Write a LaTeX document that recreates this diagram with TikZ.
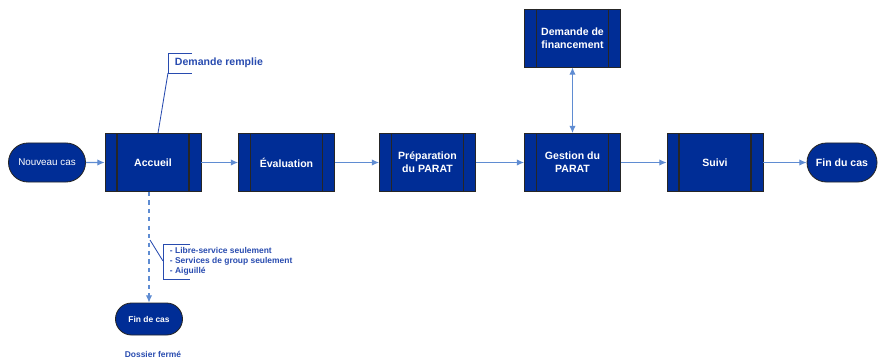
\documentclass[tikz,border=0pt]{standalone}
\usepackage{fontspec}
\setmainfont{Liberation Sans}
\usetikzlibrary{arrows.meta,shapes.misc}
\definecolor{boxblue}{RGB}{0,45,150}
\definecolor{linkblue}{RGB}{95,140,210}
\definecolor{noteblue}{RGB}{40,75,175}

\begin{document}
\begin{tikzpicture}[x=0.025cm, y=-0.025cm, font=\bfseries\fontsize{7.5}{9}\selectfont,
	process/.style={draw=black!85, line width=0.6pt, fill=boxblue, text=white, minimum width=2.4cm, minimum height=1.45cm, align=center, inner sep=0pt,
		path picture={\draw[black!85, line width=0.9pt] ([xshift=0.3cm]path picture bounding box.north west) -- ([xshift=0.3cm]path picture bounding box.south west);
			\draw[black!85, line width=0.9pt] ([xshift=-0.3cm]path picture bounding box.north east) -- ([xshift=-0.3cm]path picture bounding box.south east);}},
	terminal/.style={rounded rectangle, draw=black!85, line width=0.6pt, fill=boxblue, text=white, minimum height=0.975cm, inner sep=0pt},
	link/.style={draw=linkblue, line width=0.8pt, -{Latex[length=1.8mm,width=1.6mm]}},
	bracket/.style={draw=noteblue, line width=0.6pt},
	note/.style={text=noteblue, anchor=west, align=left}]
	\useasboundingbox (0,0) rectangle (878,361);
	% main flow
	\node[terminal, minimum width=1.925cm, font=\fontsize{7}{8}\selectfont] (nouveau) at (47,162.5) {Nouveau cas};
	\node[process] (accueil) at (153,162.5) {Accueil};
	\node[process] (evaluation) at (286.5,162.5) {Évaluation};
	\node[process] (preparation) at (427.5,162.5) {Préparation\\du PARAT};
	\node[process] (gestion) at (572.5,162.5) {Gestion du\\PARAT};
	\node[process] (financement) at (572.5,38) {Demande de\\financement};
	\node[process] (suivi) at (715,162.5) {Suivi};
	\node[terminal, minimum width=1.75cm] (fin) at (842,162.5) {Fin du cas};
	\node[terminal, minimum width=1.675cm, minimum height=0.8cm, font=\bfseries\fontsize{6}{7}\selectfont] (fincas) at (149,319) {Fin de cas};

	\draw[link] (nouveau) -- (accueil);
	\draw[link] (accueil) -- (evaluation);
	\draw[link] (evaluation) -- (preparation);
	\draw[link] (preparation) -- (gestion);
	\draw[link] (gestion) -- (suivi);
	\draw[link] (suivi) -- (fin);
	\draw[link, {Latex[length=1.8mm,width=1.6mm]}-{Latex[length=1.8mm,width=1.6mm]}] (gestion) -- (financement);
	\draw[link, dashed] (accueil.south -| fincas) -- (fincas.north);

	% notes
	\coordinate (remplie-pt) at ([xshift=0.125cm]accueil.north);
	\draw[bracket] (remplie-pt) -- (168,73);
	\draw[bracket] (192,53) -- (168,53) -- (168,73) -- (192,73);
	\node[note] (remplie) at (170,63) {Demande remplie};

	\coordinate (options-pt) at (150,240);
	\draw[bracket] (options-pt) -- (163,261);
	\draw[bracket] (190,244) -- (163,244) -- (163,279) -- (190,279);
	\node[note, font=\bfseries\fontsize{6}{7.2}\selectfont] (options) at (165,261) {- Libre-service seulement\\- Services de group seulement\\- Aiguillé};
	\node[note, anchor=center, font=\bfseries\fontsize{6}{7}\selectfont] (ferme) at (153,354) {Dossier fermé};
\end{tikzpicture}
\end{document}
